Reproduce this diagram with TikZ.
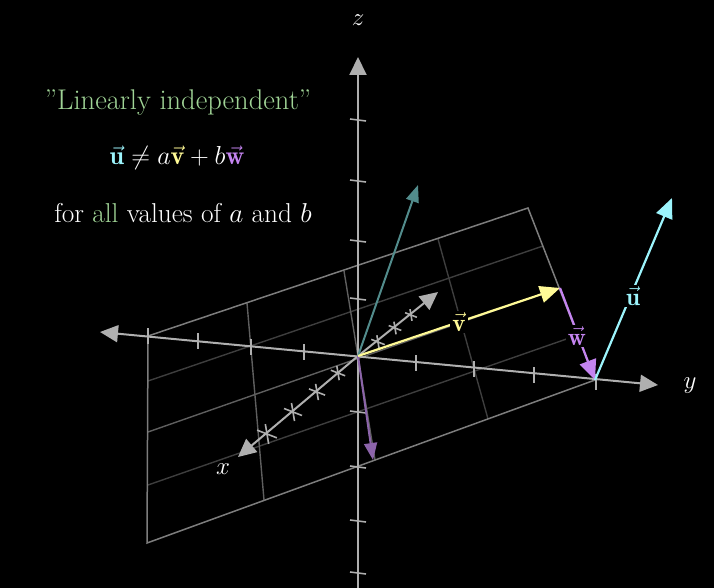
\RequirePackage{fix-cm}
\documentclass[tikz,border=0pt]{standalone}
\usepackage{fontspec}
\usetikzlibrary{arrows.meta}
\definecolor{axisgray}{RGB}{175,175,175}
\definecolor{edgegray}{RGB}{125,125,125}
\definecolor{midgray}{RGB}{95,95,95}
\definecolor{dimgray}{RGB}{62,62,62}
\definecolor{ucol}{RGB}{156,244,252}
\definecolor{vcol}{RGB}{255,250,150}
\definecolor{wcol}{RGB}{196,132,240}
\definecolor{tealdim}{RGB}{82,140,140}
\definecolor{purpdim}{RGB}{140,100,170}
\definecolor{txtgreen}{RGB}{160,212,150}
\tikzset{
  bigfont/.style={font=\fontsize{25}{30}\selectfont},
  axisline/.style={draw=axisgray, line width=2pt},
  axtip/.style={-{Triangle[length=18pt,width=17pt]}},
  tickline/.style={draw=axisgray, line width=1.6pt},
  edgeline/.style={draw=edgegray, line width=1.5pt},
  midline/.style={draw=midgray, line width=1.4pt},
  dimline/.style={draw=dimgray, line width=1.4pt},
  vecline/.style={line width=2.2pt, -{Triangle[length=20pt,width=17pt]}},
  dimvec/.style={line width=2pt, -{Triangle[length=17pt,width=13pt]}},
  veclabel/.style={bigfont, fill=black, inner sep=2pt},
  txt/.style={bigfont, text=white, inner sep=0pt}
}
\begin{document}
\begin{tikzpicture}[x=1pt,y=-1pt]
\fill[black] (0,0) rectangle (714,588);
\useasboundingbox (0,0) rectangle (714,588);
% plane corners
\coordinate (A) at (148,336);
\coordinate (B) at (528,208);
\coordinate (C) at (595,380);
\coordinate (D) at (147,543);
\coordinate (O) at (358,356);
% lines along v
\coordinate (L2a) at (148,381); \coordinate (L2b) at (543,246);
\coordinate (L3a) at (148,432); \coordinate (L3b) at (559,288);
\coordinate (L4a) at (148,485); \coordinate (L4b) at (578,335);
% lines along w
\coordinate (M2a) at (247,303); \coordinate (M2b) at (264,500);
\coordinate (M3a) at (344,271); \coordinate (M3b) at (375,460);
\coordinate (M4a) at (438,239); \coordinate (M4b) at (488,419);
% plane grid
\draw[dimline] (L2a) -- (L2b);
\draw[dimline] (L4a) -- (L4b);
\draw[midline] (L3a) -- (L3b);
\draw[midline] (M2a) -- (M2b);
\draw[midline] (M3a) -- (M3b);
\draw[dimline] (M4a) -- (M4b);
\draw[edgeline] (A) -- (B) -- (C) -- (D) -- cycle;
% axes
\coordinate (zbot) at (358,590);
\coordinate (ztop) at (358,57);
\coordinate (yneg) at (100,332);
\coordinate (ypos) at (658,385);
\coordinate (xneg) at (238,457);
\coordinate (xpos) at (438,292);
\draw[axisline, axtip] (zbot) -- (ztop);
\draw[axisline, {Triangle[length=18pt,width=17pt]}-{Triangle[length=18pt,width=17pt]}] (yneg) -- (ypos);
\draw[axisline, axtip] (O) -- (xneg);
\draw[axisline, axtip] (O) -- (xpos);
% y ticks
\foreach \px/\py in {148/336,198/341,251/347,304/352,416/363,474/369,534/375,596/382}
  \draw[tickline] (\px,\py-8) -- (\px,\py+8);
% z ticks
\foreach \py in {120,181,241,299,412,467,521,573}
  \draw[tickline] (350,\py-1) -- (366,\py+1);
% x ticks (crosses)
\foreach \px/\py/\s in {338/373/0.8,317/392/0.9,293/412/1,267/434/1.1,378/342/0.75,395/328/0.7,411/315/0.65}
{
  \draw[tickline] (\px-9*\s,\py-3.5*\s) -- (\px+9*\s,\py+3.5*\s);
  \draw[tickline] (\px-1.5*\s,\py-9*\s) -- (\px+1.5*\s,\py+9*\s);
}
% vectors
\coordinate (tealtip) at (418,185);
\coordinate (purptip) at (373,460);
\coordinate (vtip) at (560,288);
\coordinate (utip) at (672,198);
\draw[dimvec, draw=tealdim, -{Triangle[length=17pt,width=13pt,fill=tealdim]}] (O) -- (tealtip);
\draw[dimvec, draw=purpdim, -{Triangle[length=17pt,width=13pt,fill=purpdim]}] (O) -- (purptip);
\draw[vecline, draw=vcol, -{Triangle[length=20pt,width=17pt,fill=vcol]}] (O) -- (vtip)
  node[veclabel, pos=0.5, text=vcol] (vlab) {$\vec{\mathbf{v}}$};
\draw[vecline, draw=wcol, -{Triangle[length=20pt,width=17pt,fill=wcol]}] (vtip) -- (C);
\node[veclabel, text=wcol] (wlab) at (577,336) {$\vec{\mathbf{w}}$};
\draw[vecline, draw=ucol, -{Triangle[length=20pt,width=17pt,fill=ucol]}] (C) -- (utip);
\node[veclabel, text=ucol] (ulab) at (633,296) {$\vec{\mathbf{u}}$};
% axis labels
\node[txt] (zlab) at (358,20) {$z$};
\node[txt] (ylab) at (690,386) {$y$};
\node[txt] (xlab) at (223,469) {$x$};
% text
\node[txt, text=txtgreen, font=\fontsize{28.5}{34}\selectfont] (title) at (178,103) {''Linearly independent''};
\node[txt, font=\fontsize{26}{31}\selectfont] (eq) at (177,158) {$\textcolor{ucol}{\vec{\mathbf{u}}}\neq a\textcolor{vcol}{\vec{\mathbf{v}}}+b\textcolor{wcol}{\vec{\mathbf{w}}}$};
\node[txt, font=\fontsize{27.3}{33}\selectfont] (forall) at (183,213) {for \textcolor{txtgreen}{all} values of $a$ and $b$};
\end{tikzpicture}
\end{document}
